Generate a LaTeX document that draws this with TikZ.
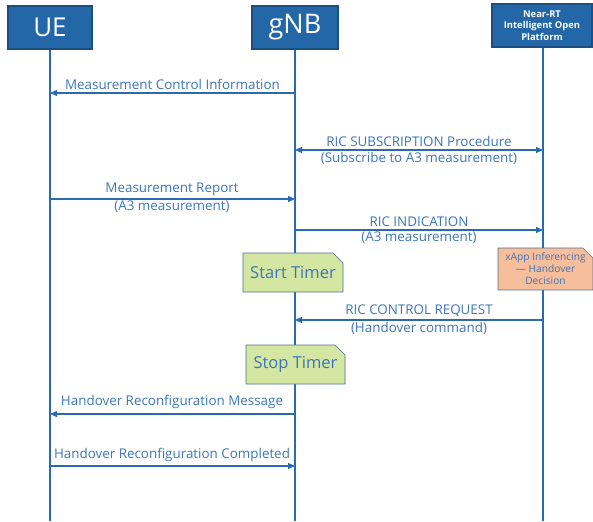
\documentclass[tikz,border=0pt]{standalone}
\usepackage{fontspec}
\setmainfont{Open Sans}
\usetikzlibrary{arrows.meta,shapes.misc,calc}
\definecolor{hdrfill}{HTML}{2467A8}
\definecolor{hdrdraw}{HTML}{1B4F82}
\definecolor{lifeblue}{HTML}{2A6BB0}
\definecolor{txtblue}{HTML}{3B76BC}
\definecolor{timerfill}{HTML}{D3E6A2}
\definecolor{xappfill}{HTML}{F7BE9C}
\definecolor{noteedge}{HTML}{4F6F8F}
\tikzset{
  header/.style={draw=hdrdraw, line width=1.2pt, fill=hdrfill, text=white, inner sep=0pt},
  life/.style={draw=lifeblue, line width=1.3pt},
  msg/.style={draw=lifeblue, line width=1.3pt, -{Triangle[length=7pt,width=6pt]}},
  msgboth/.style={draw=lifeblue, line width=1.3pt, {Triangle[length=7pt,width=6pt]}-{Triangle[length=7pt,width=6pt]}},
  lbl/.style={text=txtblue, font=\fontsize{13.4}{14.5}\selectfont, inner sep=0pt, align=center},
  note/.style={chamfered rectangle, chamfered rectangle corners=north east,
    chamfered rectangle xsep=5pt, chamfered rectangle ysep=5pt,
    draw=noteedge, line width=0.6pt, inner sep=0pt, text=txtblue, align=center},
}
\begin{document}
\begin{tikzpicture}[x=1pt,y=-1pt]
\useasboundingbox (0,0) rectangle (593,521);

% participants
\node[header, minimum width=84pt, minimum height=43pt, font=\fontsize{26}{28}\selectfont] (ue) at (50,27.5) {UE};
\node[header, minimum width=86pt, minimum height=43pt, font=\fontsize{27}{29}\selectfont] (gnb) at (295,27.5) {gNB};
\node[header, minimum width=100pt, minimum height=43pt, font=\bfseries\fontsize{9.4}{11.5}\selectfont, align=center] (ric) at (542,25.5) {Near-RT\\Intelligent Open\\Platform};

% lifeline ends
\coordinate (ueend) at (50,521);
\coordinate (gnbend) at (295,521);
\coordinate (ricend) at (543,521);
\draw[life] (ue.south) -- (ueend);
\draw[life] (gnb.south) -- (gnbend);
\draw[life] (ric.south -| ricend) -- (ricend);

% message anchor points on the lifelines
\foreach \n/\y in {1/93, 2/150, 3/199, 4/230, 5/320, 6/414, 7/466} {
  \coordinate (u\n) at (50,\y);
  \coordinate (g\n) at (295,\y);
  \coordinate (r\n) at (543,\y);
}

% messages
\draw[msg] (g1) -- (u1);
\node[lbl, anchor=south] (l1) at ($(u1)!0.5!(g1)+(0,-3)$) {Measurement Control Information};

\draw[msgboth] (g2) -- (r2);
\node[lbl, anchor=south] (l2a) at (419,147) {RIC SUBSCRIPTION Procedure};
\node[lbl, anchor=north] (l2b) at (419,152) {(Subscribe to A3 measurement)};

\draw[msg] (u3) -- (g3);
\node[lbl, anchor=south] (l3a) at (172,196) {Measurement Report};
\node[lbl, anchor=north] (l3b) at (172,201) {(A3 measurement)};

\draw[msg] (g4) -- (r4);
\node[lbl, anchor=south] (l4a) at (419,227) {RIC INDICATION};
\node[lbl, anchor=north] (l4b) at (419,232) {(A3 measurement)};

\draw[msg] (r5) -- (g5);
\node[lbl, anchor=south] (l5a) at (419,317) {RIC CONTROL REQUEST};
\node[lbl, anchor=north] (l5b) at (419,322) {(Handover command)};

\draw[msg] (g6) -- (u6);
\node[lbl, anchor=south] (l6) at (172,409) {Handover Reconfiguration Message};

\draw[msg] (u7) -- (g7);
\node[lbl, anchor=south] (l7) at (172,462) {Handover Reconfiguration Completed};

% notes on the lifelines
\node[note, fill=timerfill, minimum width=100pt, minimum height=39pt, font=\fontsize{16.5}{18}\selectfont] (start) at (293,272.5) {Start Timer};
\node[note, fill=timerfill, minimum width=99pt, minimum height=39pt, font=\fontsize{16.5}{18}\selectfont] (stop) at (295.5,364.5) {Stop Timer};
\node[note, fill=xappfill, minimum width=95pt, minimum height=38pt, font=\fontsize{10.2}{12}\selectfont] (xapp) at (545.5,269) {xApp Inferencing\\— Handover\\Decision};
\end{tikzpicture}
\end{document}
